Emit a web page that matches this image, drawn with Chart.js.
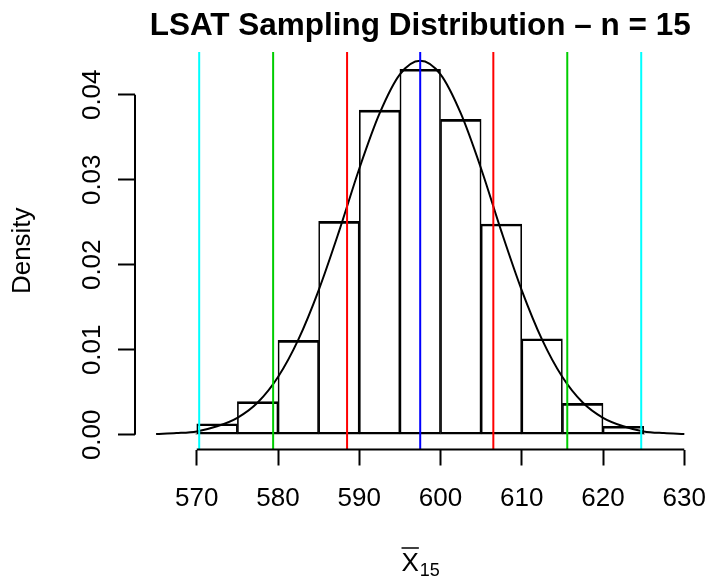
<!DOCTYPE html>
<html>
<head>
<meta charset="utf-8">
<script src="https://cdn.jsdelivr.net/npm/chart.js@4.4.1/dist/chart.umd.min.js"></script>
<style>
  html, body { margin: 0; padding: 0; background: #fff; }
  canvas { display: block; }
</style>
</head>
<body>
<canvas id="grafico" width="711" height="583"></canvas>
<script>
// Histograma: inicio de cada clase y densidad
const binStarts = [565, 570, 575, 580, 585, 590, 595, 600, 605, 610, 615, 620, 625];
const binDensity = [0.0001, 0.0013, 0.0039, 0.0111, 0.0251, 0.0382, 0.0430, 0.0371, 0.0248, 0.0113, 0.0037, 0.0010, 0.0001];
const binWidth = 5;

// Curva de densidad normal
const curveX = [565, 567.5, 570, 572.5, 575, 577.5, 580, 582.5, 585, 587.5, 590, 592.5, 595, 597.5,
                600, 602.5, 605, 607.5, 610, 612.5, 615, 617.5, 620, 622.5, 625, 627.5, 630];
const curveY = [0.0001, 0.0002, 0.0004, 0.0010, 0.0020, 0.0038, 0.0068, 0.0112, 0.0170, 0.0239, 0.0313, 0.0378, 0.0424, 0.0440,
                0.0424, 0.0378, 0.0313, 0.0239, 0.0170, 0.0112, 0.0068, 0.0038, 0.0020, 0.0010, 0.0004, 0.0002, 0.0001];

// Lineas verticales: media y +-1, 2, 3 desviaciones
const refLinesX = [570.3, 579.4, 588.5, 597.5, 606.5, 615.6, 624.7];
const refColors = ['#00ffff', '#00cd00', '#ff0000', '#0000ff', '#ff0000', '#00cd00', '#00ffff'];

// Ejes
const xTicks = [570, 580, 590, 600, 610, 620, 630];
const yTicks = [0, 0.01, 0.02, 0.03, 0.04];
const yTickLabels = ['0.00', '0.01', '0.02', '0.03', '0.04'];
const xMin = 562.4, xMax = 632.6;
const yMin = -0.00173, yMax = 0.04503;

const FONT = '"Liberation Sans", Arial, sans-serif';

// Datasets
const datasets = [];
refLinesX.forEach((x, i) => {
    datasets.push({
        type: 'line',
        data: [{x: x, y: yMin}, {x: x, y: yMax}],
        borderColor: refColors[i],
        borderWidth: 2,
        pointRadius: 0,
        order: 0
    });
});
datasets.push({
    type: 'line',
    data: curveX.map((x, i) => ({x: x, y: curveY[i]})),
    borderColor: '#000',
    borderWidth: 2,
    pointRadius: 0,
    cubicInterpolationMode: 'monotone',
    order: 1
});
datasets.push({
    type: 'bar',
    data: binStarts.map((s, i) => ({x: s + binWidth / 2, y: binDensity[i]})),
    backgroundColor: 'rgba(0,0,0,0)',
    borderColor: '#000',
    borderWidth: {top: 2, bottom: 2, left: 1, right: 1},
    borderSkipped: false,
    barPercentage: 1,
    categoryPercentage: 1,
    order: 2
});

// Textos y lineas de ejes estilo R
const rAxes = {
    id: 'rAxes',
    afterDraw(chart) {
        const ctx = chart.ctx;
        const xs = chart.scales.x, ys = chart.scales.y;
        const area = chart.chartArea;
        ctx.save();
        ctx.strokeStyle = '#000';
        ctx.lineWidth = 2;
        ctx.beginPath();
        ctx.moveTo(xs.getPixelForValue(xTicks[0]), area.bottom);
        ctx.lineTo(xs.getPixelForValue(xTicks[xTicks.length - 1]), area.bottom);
        ctx.moveTo(area.left, ys.getPixelForValue(yTicks[0]));
        ctx.lineTo(area.left, ys.getPixelForValue(yTicks[yTicks.length - 1]));
        ctx.stroke();

        ctx.fillStyle = '#000';
        ctx.textAlign = 'center';
        ctx.textBaseline = 'alphabetic';

        // etiquetas eje y (rotadas)
        ctx.font = '26px ' + FONT;
        yTicks.forEach((v, i) => {
            ctx.save();
            ctx.translate(100, ys.getPixelForValue(v));
            ctx.rotate(-Math.PI / 2);
            ctx.fillText(yTickLabels[i], 0, 0);
            ctx.restore();
        });

        // titulo
        const cx = (area.left + area.right) / 2;
        ctx.font = 'bold 31.5px ' + FONT;
        ctx.fillText('LSAT Sampling Distribution \u2013 n = 15', cx, 35);

        // Density
        ctx.font = '26px ' + FONT;
        ctx.save();
        ctx.translate(30, (area.top + area.bottom) / 2);
        ctx.rotate(-Math.PI / 2);
        ctx.fillText('Density', 0, 0);
        ctx.restore();

        // X barra sub 15
        ctx.font = '26px ' + FONT;
        const wX = ctx.measureText('X').width;
        ctx.font = '18px ' + FONT;
        const wS = ctx.measureText('15').width;
        const x0 = cx - (wX + wS) / 2;
        const base = 571;
        ctx.textAlign = 'left';
        ctx.font = '26px ' + FONT;
        ctx.fillText('X', x0, base);
        ctx.font = '18px ' + FONT;
        ctx.fillText('15', x0 + wX + 1, base + 5);
        ctx.lineWidth = 1.5;
        ctx.beginPath();
        ctx.moveTo(x0, base - 23);
        ctx.lineTo(x0 + wX, base - 23);
        ctx.stroke();
        ctx.restore();
    }
};

new Chart(document.getElementById('grafico'), {
    type: 'bar',
    data: { datasets: datasets },
    options: {
        responsive: false,
        animation: false,
        layout: { padding: { top: 52, right: 5.6, left: 0, bottom: 0 } },
        plugins: { legend: { display: false }, tooltip: { enabled: false }, title: { display: false } },
        scales: {
            x: {
                type: 'linear',
                min: xMin, max: xMax,
                offset: false,
                afterBuildTicks: s => { s.ticks = xTicks.map(v => ({value: v})); },
                afterFit: s => { s.height = 583 - 449.5; s.paddingLeft = 0; s.paddingRight = 0; },
                border: { display: false },
                grid: { offset: false, drawOnChartArea: false, drawTicks: true, tickLength: 16, tickWidth: 2, tickColor: '#000' },
                ticks: { autoSkip: false, maxRotation: 0, minRotation: 0, padding: 18, color: '#000',
                         font: { family: FONT, size: 26 } }
            },
            y: {
                type: 'linear',
                min: yMin, max: yMax,
                afterBuildTicks: s => { s.ticks = yTicks.map(v => ({value: v})); },
                afterFit: s => { s.width = 135; s.paddingTop = 0; s.paddingBottom = 0; },
                border: { display: false },
                grid: { offset: false, drawOnChartArea: false, drawTicks: true, tickLength: 17, tickWidth: 2, tickColor: '#000' },
                ticks: { display: false }
            }
        }
    },
    plugins: [rAxes]
});
</script>
</body>
</html>
